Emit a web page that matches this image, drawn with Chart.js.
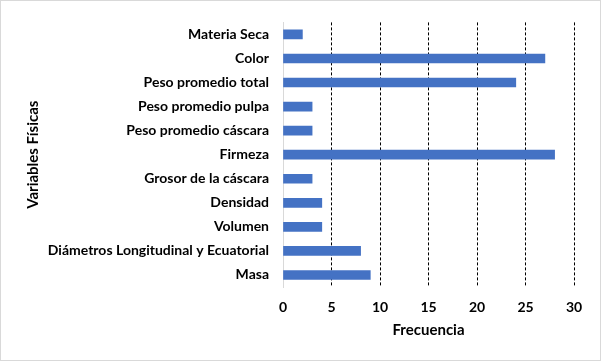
<!DOCTYPE html>
<html>
<head>
<meta charset="utf-8">
<script src="https://cdn.jsdelivr.net/npm/chart.js@4/dist/chart.umd.min.js"></script>
<style>
  html, body { margin: 0; padding: 0; background: #fff; }
  #wrap { width: 601px; height: 361px; }
</style>
</head>
<body>
<div id="wrap"><canvas id="chart" width="601" height="361"></canvas></div>
<script>
// categories, top to bottom as in the picture
const categories = [
  'Materia Seca',
  'Color',
  'Peso promedio total',
  'Peso promedio pulpa',
  'Peso promedio cáscara',
  'Firmeza',
  'Grosor de la cáscara',
  'Densidad',
  'Volumen',
  'Diámetros Longitudinal y Ecuatorial',
  'Masa'
];
const frecuencia = [2, 27, 24, 3, 3, 28, 3, 4, 4, 8, 9];
const xTicks = [0, 5, 10, 15, 20, 25, 30];

const FONT = 'Lato, "Open Sans", sans-serif';

// light grey frame round the whole picture
const framePlugin = {
  id: 'frame',
  afterDraw(chart) {
    const ctx = chart.ctx;
    ctx.save();
    ctx.strokeStyle = '#d9d9d9';
    ctx.lineWidth = 1;
    ctx.strokeRect(0.5, 0.5, chart.width - 1, chart.height - 1);
    ctx.restore();
  }
};

new Chart(document.getElementById('chart'), {
  type: 'bar',
  data: {
    labels: categories,
    datasets: [{
      label: 'Frecuencia',
      data: frecuencia,
      backgroundColor: '#4472c4',
      borderWidth: 0,
      barThickness: 9
    }]
  },
  options: {
    indexAxis: 'y',
    responsive: false,
    animation: false,
    layout: { padding: { top: 18, right: 27, bottom: 0, left: 0 } },
    plugins: {
      legend: { display: false },
      tooltip: { enabled: false }
    },
    scales: {
      x: {
        min: 0,
        max: 30,
        afterBuildTicks: scale => { scale.ticks = xTicks.map(v => ({ value: v })); },
        afterFit: scale => { scale.height = 74; },
        grid: {
          drawTicks: false,
          color: c => (c.tick && c.tick.value === 0 ? 'rgba(0,0,0,0)' : '#000'),
          lineWidth: 1
        },
        border: { display: false, dash: [3, 2] },
        ticks: {
          padding: 12,
          color: '#000',
          font: { family: FONT, size: 14, weight: 'bold' }
        },
        title: {
          display: true,
          text: 'Frecuencia',
          color: '#000',
          padding: { top: 0, bottom: 22 },
          font: { family: FONT, size: 15, weight: 'bold' }
        }
      },
      y: {
        afterFit: scale => { scale.width = 283; },
        grid: { display: false, drawTicks: false },
        border: { display: true, color: '#d9d9d9', width: 1 },
        ticks: {
          padding: 14,
          color: '#000',
          font: { family: FONT, size: 14, weight: 'bold' }
        },
        title: {
          display: true,
          text: 'Variables Físicas',
          color: '#000',
          padding: { top: 24, bottom: 0 },
          font: { family: FONT, size: 15, weight: 'bold' }
        }
      }
    }
  },
  plugins: [framePlugin]
});
</script>
</body>
</html>
